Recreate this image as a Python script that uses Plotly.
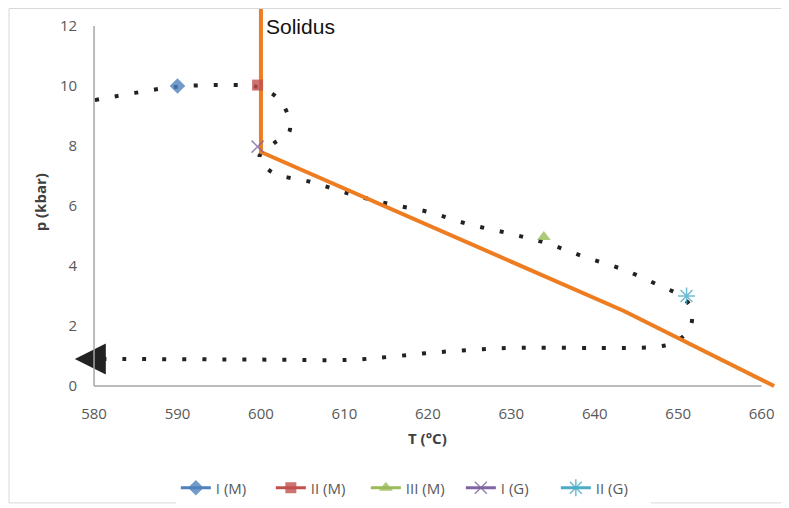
"""P-T path with solidus, recreated in Plotly."""

import plotly.graph_objects as go

# dotted P-T path (T in degC, p in kbar)
path_t = [580.1, 584.9, 589.7, 594.7, 599.5, 601.7, 603.1, 603.4, 601.6, 599.8,
          601.3, 606.0, 610.7, 615.3, 620.1, 624.8, 629.5, 634.1, 638.8, 643.5,
          647.9, 650.3, 651.6, 651.3, 649.3, 647.1, 639.8, 630.1, 625.0, 620.1,
          615.3, 610.5, 600.0, 583.7, 577.7]
path_p = [9.53, 9.77, 9.97, 10.03, 9.97, 9.67, 9.13, 8.47, 8.10, 7.63,
          7.13, 6.80, 6.40, 6.07, 5.80, 5.40, 5.10, 4.77, 4.30, 3.87,
          3.33, 3.00, 2.57, 1.87, 1.43, 1.30, 1.27, 1.27, 1.20, 1.10,
          0.97, 0.87, 0.88, 0.90, 0.90]

# solidus curve
sol_t = [600, 600, 643.5, 661.5]
sol_p = [12.9, 7.8, 2.5, 0]

# sample points
series = [
    ("I (M)", 590.0, 10.0, "#4F81BD", "diamond", 12),
    ("II (M)", 599.6, 10.03, "#C0504D", "square", 11),
    ("III (M)", 633.9, 4.97, "#9BBB59", "triangle-up", 12),
    ("I (G)", 599.6, 7.98, "#8064A2", "x-thin", 12),
    ("II (G)", 651.0, 3.0, "#4BACC6", "asterisk", 14),
]

x_ticks = [580, 590, 600, 610, 620, 630, 640, 650, 660]
y_ticks = [0, 2, 4, 6, 8, 10, 12]
x_range = [577, 661.6]
y_range = [-0.1, 12.6]

tick_font = dict(family="Open Sans", size=15, color="#595959")
title_font = dict(family="Open Sans", size=15, color="#404040")

fig = go.Figure()

fig.add_trace(go.Scatter(
    x=path_t, y=path_p, mode="lines",
    line=dict(color="#222222", width=4, dash="4px,16px", shape="spline"),
    showlegend=False, hoverinfo="skip",
))

fig.add_trace(go.Scatter(
    x=[path_t[-1]], y=[path_p[-1]], mode="markers",
    marker=dict(symbol="arrow-left", size=31, color="#222222"),
    showlegend=False, hoverinfo="skip",
))

fig.add_trace(go.Scatter(
    x=sol_t, y=sol_p, mode="lines",
    line=dict(color="#EE7D22", width=4),
    showlegend=False, hoverinfo="skip",
))

for name, t, p, color, symbol, size in series:
    thin = symbol in ("x-thin", "asterisk")
    fig.add_trace(go.Scatter(
        x=[t], y=[p], mode="lines+markers", name=name,
        line=dict(color=color, width=3),
        marker=dict(symbol=symbol, size=size, color=color,
                    line=dict(color=color, width=1.5 if thin else 0),
                    opacity=0.8),
    ))

fig.add_annotation(x=600.4, y=12.0, text="Solidus", showarrow=False,
                   xanchor="left", yanchor="middle",
                   font=dict(family="Liberation Sans", size=21, color="#111111"))

fig.add_annotation(x=620, y=y_range[0], text="<b>T (°C)</b>", showarrow=False,
                   yshift=-49, font=title_font)
fig.add_annotation(xref="paper", yref="paper", x=-0.041, y=0.49,
                   xanchor="center", yanchor="middle",
                   text="<b>p (kbar)</b>", showarrow=False, textangle=-90,
                   font=title_font)

# axis lines only over the tick span
fig.add_shape(type="line", x0=x_ticks[0], x1=x_ticks[-1], y0=0, y1=0,
              line=dict(color="#A6A6A6", width=1.5))
fig.add_shape(type="line", x0=x_ticks[0], x1=x_ticks[0], y0=0, y1=y_ticks[-1],
              line=dict(color="#A6A6A6", width=1.5))
# chart border
fig.add_shape(type="rect", xref="paper", yref="paper", x0=-0.085, x1=1.01,
              y0=-0.299, y1=0.9987, line=dict(color="#D9D9D9", width=1))

# y axis sits at T = 580, inside the widened x range
y_pos = (x_ticks[0] - x_range[0]) / (x_range[1] - x_range[0])

fig.update_xaxes(range=x_range, tickvals=x_ticks, showgrid=False,
                 zeroline=False, showline=False, ticks="",
                 ticklabelstandoff=14, tickfont=tick_font)
fig.update_yaxes(range=y_range, tickvals=y_ticks, showgrid=False,
                 zeroline=False, showline=False, ticks="",
                 anchor="free", position=y_pos,
                 ticklabelstandoff=17, tickfont=tick_font)

fig.update_layout(
    width=781, height=500,
    margin=dict(l=61, r=14, t=0, b=119),
    plot_bgcolor="white", paper_bgcolor="white",
    legend=dict(orientation="h", x=0.519, xanchor="center", xref="container",
                y=0.04, yanchor="middle", yref="container",
                font=dict(family="Open Sans", size=15, color="#595959"),
                itemwidth=30, entrywidth=50, entrywidthmode="pixels"),
)

fig.write_html("out.html")
